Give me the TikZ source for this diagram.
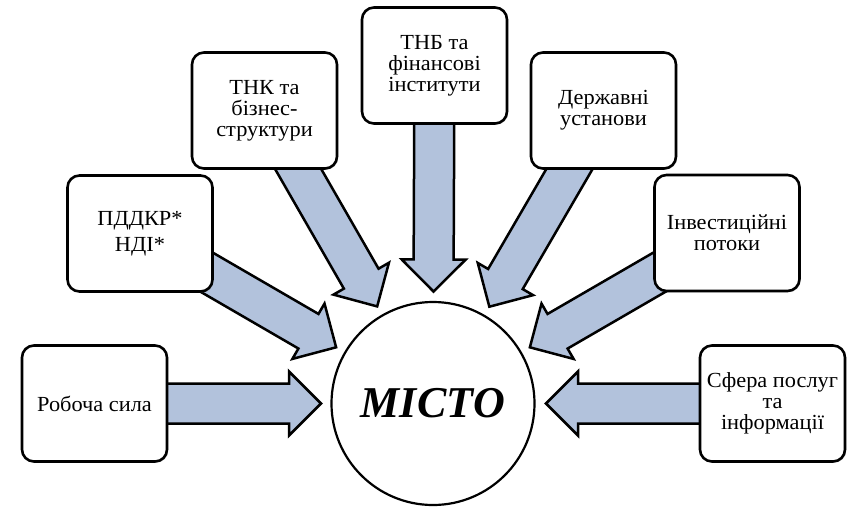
\documentclass[tikz,border=0pt]{standalone}
\usepackage{fontspec}
\setmainfont{LiberationSerif}[Extension=.ttf,
  UprightFont=*-Regular, BoldFont=*-Bold,
  ItalicFont=*-Italic, BoldItalicFont=*-BoldItalic]
% slightly widened serif for the labels in the boxes
\newfontfamily\boxfont{LiberationSerif}[Extension=.ttf,
  UprightFont=*-Regular, FakeStretch=1.04]
\usetikzlibrary{calc,shadows,backgrounds}

\definecolor{arrowfill}{RGB}{178,194,220}

% block arrow from the centre of #1 to a point at #3 from the centre of #2
\newcommand{\fatarrow}[3]{%
  \coordinate (T) at ($(#2.center)!#3!(#1.center)$);
  \coordinate (S) at (#1.center);
  \coordinate (H) at ($(T)!32pt!(S)$);
  \draw[fatarrowstyle]
    ($(S)!20pt!90:(T)$) -- ($(H)!20pt!-90:(S)$) -- ($(H)!32pt!-90:(S)$)
    -- (T) -- ($(H)!32pt!90:(S)$) -- ($(H)!20pt!90:(S)$)
    -- ($(S)!20pt!-90:(T)$) -- cycle;}

\begin{document}
\begin{tikzpicture}[x=1pt,y=-1pt,
  box/.style={draw=black, line width=2.6pt, fill=white, rounded corners=12pt,
    minimum width=145pt, minimum height=116pt, align=center, inner sep=2pt,
    font=\boxfont\fontsize{21.5}{20.8}\selectfont,
    drop shadow={shadow xshift=1.2pt, shadow yshift=-1.2pt, opacity=0.45}},
  city/.style={draw=black, line width=2.2pt, fill=white, circle,
    minimum size=203pt, inner sep=0pt,
    font=\rmfamily\fontsize{44}{46}\selectfont\bfseries\itshape},
  fatarrowstyle/.style={draw=black, line width=2.5pt, fill=arrowfill, line join=miter}]

\useasboundingbox (0,0) rectangle (852,507);

\node[city] (city) at (433,403.5) {МІСТО};

\node[box] (rob)   at (94.5,403.5)  {Робоча сила};
\node[box] (pdd)   at (140,233.5)   {ПДДКР*\\[5pt]НДІ*};
\node[box] (tnk)   at (264.5,110.5) {ТНК та\\бізнес-\\структури};
\node[box] (tnb)   at (434.5,65.5)  {ТНБ та\\фінансові\\інститути};
\node[box] (derzh) at (603.5,110.5) {Державні\\установи};
\node[box] (inv)   at (727,233)     {Інвестиційні\\потоки};
\node[box] (sfera) at (772.5,403.5) {Сфера послуг\\та\\інформації};

\begin{scope}[on background layer]
  \fatarrow{rob}{city}{112pt}
  \fatarrow{pdd}{city}{112pt}
  \fatarrow{tnk}{city}{112pt}
  \fatarrow{tnb}{city}{112pt}
  \fatarrow{derzh}{city}{112pt}
  \fatarrow{inv}{city}{112pt}
  \fatarrow{sfera}{city}{113pt}
\end{scope}
\end{tikzpicture}
\end{document}
